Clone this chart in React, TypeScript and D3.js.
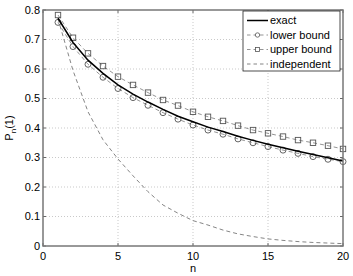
import React from "react";
import { scaleLinear, line, range } from "d3";

const width = 353;
const height = 276;

const margin = { top: 10, right: 10, bottom: 30, left: 43 };
const innerWidth = width - margin.left - margin.right;
const innerHeight = height - margin.top - margin.bottom;

const nValues = range(1, 21);
const exact = [0.772, 0.69, 0.63, 0.585, 0.546, 0.515, 0.488, 0.463, 0.44, 0.421, 0.403, 0.388, 0.372, 0.358, 0.345, 0.333, 0.321, 0.31, 0.299, 0.288];
const lowerBound = [0.758, 0.676, 0.616, 0.572, 0.534, 0.503, 0.477, 0.452, 0.43, 0.41, 0.393, 0.379, 0.363, 0.35, 0.337, 0.325, 0.314, 0.303, 0.294, 0.286];
const upperBound = [0.783, 0.706, 0.653, 0.61, 0.574, 0.546, 0.52, 0.495, 0.476, 0.455, 0.438, 0.424, 0.408, 0.393, 0.382, 0.371, 0.359, 0.35, 0.34, 0.329];
const independent = [0.77, 0.595, 0.455, 0.36, 0.295, 0.238, 0.184, 0.139, 0.111, 0.086, 0.071, 0.054, 0.041, 0.032, 0.024, 0.019, 0.015, 0.012, 0.01, 0.008];

const xTicks = [0, 5, 10, 15, 20];
const yTicks = [0, 0.1, 0.2, 0.3, 0.4, 0.5, 0.6, 0.7, 0.8];
const legendLabels = ["exact", "lower bound", "upper bound", "independent"];

const font = "Liberation Sans, Arial, Helvetica, sans-serif";
const markerColor = "#555";

export default function App() {
  const xScale = scaleLinear().domain([0, 20]).range([0, innerWidth]);
  const yScale = scaleLinear().domain([0, 0.8]).range([innerHeight, 0]);

  const path = (vals: number[]) =>
    line<number>()
      .x((_, i) => xScale(nValues[i]))
      .y((d) => yScale(d))(vals) || "";

  const legX = 243 - margin.left;
  const legY = 11 - margin.top;
  const rowH = 14.5;

  return (
    <svg width={width} height={height} style={{ position: "absolute", left: 0, top: 0, background: "#fff" }} fontFamily={font}>
      <g transform={`translate(${margin.left}, ${margin.top})`}>
        {/* grid */}
        {xTicks.slice(1, -1).map((t) => (
          <line key={"gx" + t} x1={xScale(t)} x2={xScale(t)} y1={0} y2={innerHeight} stroke="#bbb" strokeWidth={0.8} strokeDasharray="1,2" />
        ))}
        {yTicks.slice(1, -1).map((t) => (
          <line key={"gy" + t} x1={0} x2={innerWidth} y1={yScale(t)} y2={yScale(t)} stroke="#bbb" strokeWidth={0.8} strokeDasharray="1,2" />
        ))}

        {/* ticks */}
        {xTicks.map((t) => (
          <g key={"tx" + t} transform={`translate(${xScale(t)},0)`}>
            <line y1={innerHeight} y2={innerHeight - 3} stroke="#666" />
            <line y1={0} y2={3} stroke="#666" />
            <text y={innerHeight + 14} textAnchor="middle" fontSize={11}>{t}</text>
          </g>
        ))}
        {yTicks.map((t) => (
          <g key={"ty" + t} transform={`translate(0,${yScale(t)})`}>
            <line x1={0} x2={3} stroke="#666" />
            <line x1={innerWidth} x2={innerWidth - 3} stroke="#666" />
            <text x={-3} dy="0.35em" textAnchor="end" fontSize={11}>{t === 0 ? "0" : t.toFixed(1)}</text>
          </g>
        ))}

        {/* independent */}
        <path d={path(independent)} fill="none" stroke="#777" strokeWidth={0.9} strokeDasharray="4,3" />

        {/* upper bound */}
        <path d={path(upperBound)} fill="none" stroke="#888" strokeWidth={0.9} strokeDasharray="4,3" />
        {upperBound.map((v, i) => (
          <rect key={"u" + i} x={xScale(nValues[i]) - 2.7} y={yScale(v) - 2.7} width={5.4} height={5.4} fill="none" stroke={markerColor} strokeWidth={0.9} />
        ))}

        {/* lower bound */}
        <path d={path(lowerBound)} fill="none" stroke="#888" strokeWidth={0.9} strokeDasharray="4,3" />
        {lowerBound.map((v, i) => (
          <circle key={"l" + i} cx={xScale(nValues[i])} cy={yScale(v)} r={3} fill="none" stroke={markerColor} strokeWidth={0.9} />
        ))}

        {/* exact */}
        <path d={path(exact)} fill="none" stroke="#000" strokeWidth={1.5} />

        {/* axes box */}
        <rect x={0} y={0} width={innerWidth} height={innerHeight} fill="none" stroke="#777" strokeWidth={1.5} />

        {/* legend */}
        <g transform={`translate(${legX},${legY})`}>
          <rect x={0} y={0} width={97} height={60} fill="#fff" stroke="#222" strokeWidth={0.8} />
          {legendLabels.map((label, i) => {
            const cy = 9.5 + i * rowH;
            return (
              <g key={label} transform={`translate(0,${cy})`}>
                {i === 0 && <line x1={4} x2={25} stroke="#000" strokeWidth={1.5} />}
                {i > 0 && <line x1={4} x2={25} stroke={i === 3 ? "#777" : "#888"} strokeWidth={0.9} strokeDasharray="3.5,3" />}
                {i === 1 && <circle cx={14.5} cy={0} r={2.2} fill="#fff" stroke={markerColor} strokeWidth={0.8} />}
                {i === 2 && <rect x={12.5} y={-2} width={4} height={4} fill="#fff" stroke={markerColor} strokeWidth={0.8} />}
                <text x={27} dy="0.35em" fontSize={11}>{label}</text>
              </g>
            );
          })}
        </g>
      </g>

      {/* axis labels */}
      <text x={margin.left + innerWidth / 2} y={272} textAnchor="middle" fontSize={11}>n</text>
      <text transform={`translate(13,${margin.top + innerHeight / 2}) rotate(-90)`} textAnchor="middle" fontSize={11}>
        P<tspan fontSize={8} dy={3}>n</tspan><tspan dy={-3}>(1)</tspan>
      </text>
    </svg>
  );
}
